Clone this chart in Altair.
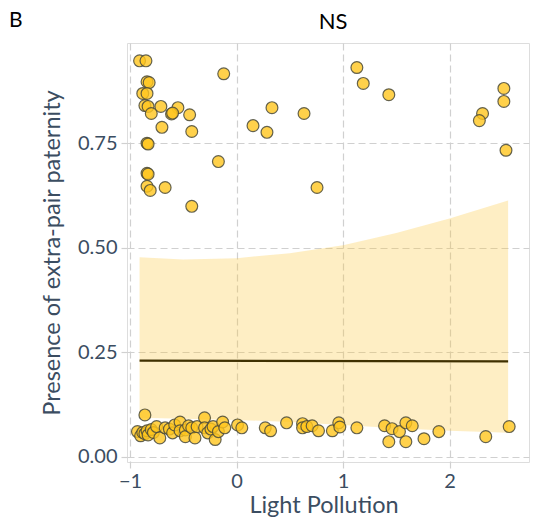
import altair as alt
import pandas as pd

# ---- data ----
# upper group of jittered points (EPP present)
top_light = [-0.91, -0.85, -0.84, -0.82, -0.88, -0.84, -0.86, -0.83, -0.80, -0.71,
             -0.55, -0.61, -0.60, -0.44, -0.70, -0.42, -0.12, -0.84, -0.83, -0.17,
             -0.84, -0.83, -0.84, -0.81, -0.67, -0.42, 0.155, 0.286, 0.333, 0.634,
             0.756, 1.13, 1.19, 1.43, 2.51, 2.51, 2.31, 2.28, 2.53]
top_epp = [0.947, 0.947, 0.897, 0.895, 0.869, 0.869, 0.840, 0.838, 0.821, 0.838,
           0.835, 0.820, 0.822, 0.818, 0.788, 0.778, 0.916, 0.750, 0.748, 0.706,
           0.678, 0.676, 0.647, 0.637, 0.644, 0.599, 0.792, 0.776, 0.835, 0.821,
           0.644, 0.931, 0.893, 0.866, 0.881, 0.850, 0.821, 0.804, 0.733]

# lower group of jittered points (EPP absent)
bot_light = [-0.93, -0.90, -0.88, -0.86, -0.84, -0.83, -0.86, -0.80, -0.78, -0.75,
             -0.72, -0.67, -0.63, -0.60, -0.58, -0.53, -0.53, -0.48, -0.48, -0.45,
             -0.42, -0.39, -0.37, -0.30, -0.30, -0.27, -0.24, -0.22, -0.20, -0.17,
             -0.13, -0.11, 0.01, 0.05, 0.27, 0.32, 0.47, 0.62, 0.62, 0.66,
             0.71, 0.77, 0.90, 0.96, 0.97, 1.13, 1.39, 1.46, 1.43, 1.53,
             1.59, 1.65, 1.59, 1.76, 1.90, 2.34, 2.56]
bot_epp = [0.060, 0.050, 0.058, 0.055, 0.062, 0.052, 0.100, 0.065, 0.058, 0.072,
           0.045, 0.069, 0.066, 0.057, 0.076, 0.083, 0.062, 0.064, 0.048, 0.074,
           0.069, 0.045, 0.072, 0.093, 0.069, 0.057, 0.066, 0.072, 0.041, 0.060,
           0.083, 0.069, 0.076, 0.069, 0.069, 0.062, 0.081, 0.079, 0.069, 0.072,
           0.074, 0.062, 0.062, 0.081, 0.071, 0.069, 0.074, 0.067, 0.036, 0.060,
           0.081, 0.074, 0.036, 0.043, 0.060, 0.048, 0.072]

# fitted curve and its confidence band
band_light = [-0.91, -0.5, 0.0, 0.5, 1.0, 1.5, 2.0, 2.55]
band_low = [0.093, 0.091, 0.088, 0.083, 0.076, 0.068, 0.062, 0.057]
band_high = [0.477, 0.472, 0.475, 0.487, 0.506, 0.535, 0.570, 0.613]
fit_light = [-0.91, 2.55]
fit_epp = [0.230, 0.228]

panel_label = ["B"]
panel_title = ["NS"]

points = pd.DataFrame({"light": top_light + bot_light, "epp": top_epp + bot_epp})
band = pd.DataFrame({"light": band_light, "lo": band_low, "hi": band_high})
fit = pd.DataFrame({"light": fit_light, "epp": fit_epp})
lab = pd.DataFrame({"t": panel_label})
ttl = pd.DataFrame({"t": panel_title})

FONT = "Lato"
AXC = "#3b4d61"
GRID = "#d0d0d0"

common = dict(grid=True, gridDash=[7, 4], gridColor=GRID, gridWidth=1.2,
              domain=False, ticks=True, tickColor=GRID, tickWidth=1.2, tickSize=6,
              labelFont=FONT, labelFontSize=20, labelColor=AXC,
              titleFont=FONT, titleFontSize=23.5, titleColor=AXC, titleFontWeight="normal")

xaxis = alt.Axis(values=[-1, 0, 1, 2], format="d", labelPadding=3,
                 title="Light Pollution", titleX=196.5, titleY=50.5,
                 titleBaseline="alphabetic", titleAlign="center", **common)
yaxis = alt.Axis(values=[0, 0.25, 0.5, 0.75], format=".2f", labelPadding=4,
                 title="Presence of extra-pair paternity", titleX=-68, titleY=209.5,
                 titleAngle=-90, titleBaseline="alphabetic", titleAlign="center", **common)

xs = alt.Scale(domain=[-1.028, 2.746], nice=False, zero=False)
ys = alt.Scale(domain=[-0.0127, 0.9897], nice=False, zero=False)

X = alt.X("light:Q", scale=xs, axis=xaxis)
Y = alt.Y("epp:Q", scale=ys, axis=yaxis)

ribbon = alt.Chart(band).mark_area(color="#FCC83A", opacity=0.3).encode(
    x=X, y=alt.Y("lo:Q", scale=ys, axis=yaxis), y2="hi:Q")

line = alt.Chart(fit).mark_line(color="#3f3000", strokeWidth=2.2).encode(x=X, y=Y)

pts = alt.Chart(points).mark_circle(
    size=140, color="#FFC61E", fillOpacity=0.8, stroke="#4a4a3a",
    strokeOpacity=0.85, strokeWidth=1.2, opacity=1).encode(x=X, y=Y)

blabel = alt.Chart(lab).mark_text(
    font=FONT, fontSize=21, color="black", align="left", baseline="alphabetic"
).encode(text="t:N", x=alt.value(-118), y=alt.value(-16))

tlabel = alt.Chart(ttl).mark_text(
    font=FONT, fontSize=22, color="black", align="center", baseline="alphabetic"
).encode(text="t:N", x=alt.value(206), y=alt.value(-14))

chart = alt.layer(ribbon, line, pts, blabel, tlabel).properties(
    width=402, height=419,
    autosize=alt.AutoSizeParams(type="none"),
    padding={"left": 127, "top": 43, "right": 6, "bottom": 60},
).configure_view(stroke=None).configure(background="white")

chart.save("out.html", embed_options={"renderer": "svg", "actions": False})
